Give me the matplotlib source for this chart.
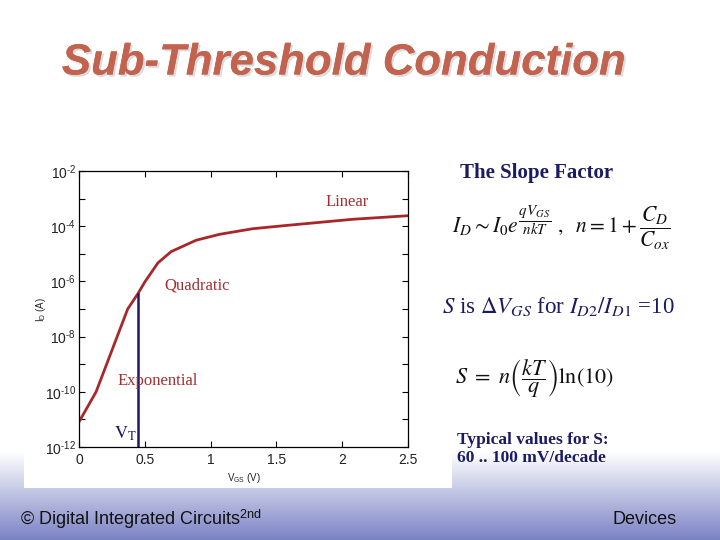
import numpy as np
import matplotlib
matplotlib.use("Agg")
import matplotlib.pyplot as plt
import matplotlib.patheffects as pe
from matplotlib.patches import Rectangle
from matplotlib.ticker import FixedLocator, FuncFormatter

plt.rcParams['mathtext.fontset'] = 'stix'

# ---- data ----
vgs = [0.0, 0.10, 0.13, 0.21, 0.29, 0.37, 0.448, 0.50, 0.60, 0.70, 0.89, 1.07, 1.32, 1.58, 1.83, 2.08, 2.50]
id_amps = [8.1e-12, 5.6e-11, 1.0e-10, 1.0e-9, 1.0e-8, 1.0e-7, 3.6e-7, 9.5e-7, 4.7e-6, 1.2e-5,
           3.1e-5, 5.1e-5, 8.1e-5, 1.07e-4, 1.38e-4, 1.78e-4, 2.4e-4]
vt = 0.448
vt_current = 3.6e-7
x_ticks = [0, 0.5, 1, 1.5, 2, 2.5]
x_tick_labels = ["0", "0.5", "1", "1.5", "2", "2.5"]
y_major_exps = [-12, -10, -8, -6, -4, -2]
y_minor_exps = [-11, -9, -7, -5, -3]

red = '#A8282A'
navy = '#1B1B62'
region_color = '#A33030'

fig = plt.figure(figsize=(7.2, 5.4), dpi=100)
fig.patch.set_facecolor('white')

# bottom gradient band
gax = fig.add_axes([0, 0, 1, 88/540])
grad = np.linspace(0, 1, 256)[:, None]
c_top = np.array([1.0, 1.0, 1.0])
c_bot = np.array([0x7A, 0x82, 0xC4]) / 255.0
img = c_bot[None, None, :] * (1 - grad[:, :, None]) + c_top[None, None, :] * grad[:, :, None]
gax.imshow(img, aspect='auto', extent=[0, 1, 0, 1], origin='lower')
gax.set_axis_off()

# white chart image area
fig.patches.append(Rectangle((24/720, (540-488)/540), (452-24)/720, (488-140)/540,
                             transform=fig.transFigure, facecolor='white', edgecolor='none', zorder=1))

# title
fig.text(344/720, 1 - 63/540, 'Sub-Threshold Conduction', ha='center', va='center',
         fontsize=31.5, fontweight='bold', fontstyle='italic', family='Liberation Sans',
         color='#C2634F',
         path_effects=[pe.withSimplePatchShadow(offset=(1.5, -1.5), shadow_rgbFace='#d9d9d9', alpha=0.9),
                       pe.Normal()])

# main axes
ax = fig.add_axes([79/720, 93/540, (408-79)/720, (447-171)/540])
ax.set_zorder(2)
ax.plot(vgs, id_amps, color=red, lw=2.0, solid_capstyle='round')
ax.plot([vt, vt], [1e-12, vt_current], color=navy, lw=1.8)
ax.set_yscale('log')
ax.set_xlim(0, 2.5)
ax.set_ylim(1e-12, 1e-2)
ax.xaxis.set_major_locator(FixedLocator(x_ticks))
ax.set_xticklabels(x_tick_labels)
ax.yaxis.set_major_locator(FixedLocator([10.0**e for e in y_major_exps]))
ax.yaxis.set_minor_locator(FixedLocator([10.0**e for e in y_minor_exps]))
ax.yaxis.set_major_formatter(FuncFormatter(
    lambda v, p: r'$\mathregular{10^{\text{-}%d}}$' % abs(int(round(np.log10(v))))))
ax.yaxis.set_minor_formatter(FuncFormatter(lambda v, p: ''))
ax.tick_params(which='both', direction='in', top=True, right=True, length=4, width=0.8,
               labelsize=10, colors='black', pad=4)
ax.tick_params(axis='y', pad=2)
for lab in ax.get_xticklabels() + ax.get_yticklabels():
    lab.set_family('Liberation Sans')
    lab.set_color('#222222')
for s in ax.spines.values():
    s.set_linewidth(0.9)

ax.set_xlabel(r'$\mathregular{V_{GS}}$ (V)', fontsize=7, family='Liberation Sans', labelpad=3, color='#222222')
ax.set_ylabel(r'$\mathregular{I_{D}}$ (A)', fontsize=7, family='Liberation Sans', color='#222222')
ax.yaxis.set_label_coords(-0.095, 0.5)

ax.text(2.04, 10**-3.12, 'Linear', ha='center', va='center', fontsize=12,
        family='Liberation Serif', color=region_color)
ax.text(0.90, 10**-6.14, 'Quadratic', ha='center', va='center', fontsize=12,
        family='Liberation Serif', color=region_color)
ax.text(0.595, 10**-9.61, 'Exponential', ha='center', va='center', fontsize=12,
        family='Liberation Serif', color=region_color)
ax.text(0.355, 10**-11.52, r'$\mathrm{V_T}$', ha='center', va='center', fontsize=13,
        color=navy)

# right-hand text
fig.text(537/720, 1 - 173/540, 'The Slope Factor', ha='center', va='center', fontsize=15,
         fontweight='bold', family='Liberation Serif', color=navy)
fig.text(452/720, 1 - 228/540,
         r'$I_D \sim I_0 e^{\dfrac{qV_{GS}}{nkT}}\ ,\ \ n = 1+\dfrac{C_D}{C_{ox}}$',
         ha='left', va='center', fontsize=15.5, color='#111111')
fig.text(442/720, 1 - 307/540,
         r'$S$ is $\mathrm{\Delta}V_{GS}$ for $I_{D2}/I_{D1}$ =10',
         ha='left', va='center', fontsize=16.5, family='Liberation Serif', color=navy)
fig.text(455/720, 1 - 378/540,
         r'$S\ =\ n\left(\dfrac{kT}{q}\right)\mathrm{ln}(10)$',
         ha='left', va='center', fontsize=16, color='#111111')
fig.text(457/720, 1 - 449/540, 'Typical values for S:\n60 .. 100 mV/decade',
         ha='left', va='center', fontsize=12.5, fontweight='bold', family='Liberation Serif',
         color=navy, linespacing=1.25)

# footer
fig.text(20/720, 1 - 519/540, r'© Digital Integrated Circuits$^{\mathregular{2nd}}$',
         ha='left', va='center', fontsize=13, family='Liberation Sans', color='#111111')
fig.text(645/720, 1 - 519/540, 'Devices', ha='center', va='center', fontsize=13,
         family='Liberation Sans', color='#111111')

fig.savefig('out.png', dpi=100, facecolor=fig.get_facecolor())
